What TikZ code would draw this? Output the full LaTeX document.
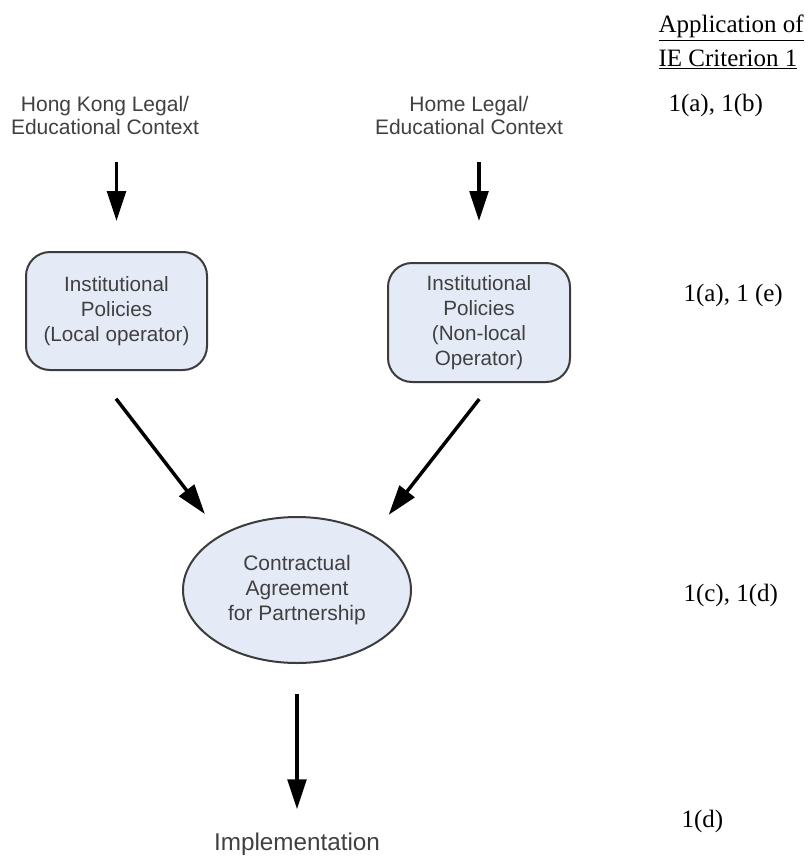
\documentclass[tikz,border=0pt]{standalone}
\usepackage{fontspec}
\setmainfont{Liberation Sans}
\newfontfamily\critfont{Liberation Serif}
\usetikzlibrary{arrows.meta,shapes.geometric}

\definecolor{policyfill}{RGB}{228,234,246}
\definecolor{edgegray}{RGB}{60,60,60}
\definecolor{textgray}{RGB}{64,64,64}

\tikzset{every picture/.style={line width=0.75pt}}
\tikzset{
  context/.style={anchor=south, inner sep=0pt, align=center, text=textgray, font=\fontsize{15.75}{17.25}\selectfont},
  policy/.style={draw=edgegray, line width=1.5pt, fill=policyfill, rounded corners=18pt, inner sep=0pt, align=center, text=textgray, font=\fontsize{15.5}{18.75}\selectfont},
  agreement/.style={ellipse, draw=edgegray, line width=1.5pt, fill=policyfill, inner sep=0pt, minimum width=171pt, minimum height=109.5pt, align=center, text=textgray, font=\fontsize{15.75}{18.75}\selectfont},
  crit/.style={anchor=base west, inner sep=0pt, font=\fontsize{18.75}{24.75}\critfont},
  flow/.style={line width=2.6pt, -{Triangle[length=22.5pt,width=14pt]}},
}

\begin{document}
\begin{tikzpicture}[x=0.75pt,y=0.75pt,yscale=-1,xscale=1]

\useasboundingbox (0,0) rectangle (809,856);

\draw (105,135) node [context] (hkctx) {Hong Kong Legal/\\Educational Context};
\draw (469,135) node [context] (homectx) {Home Legal/\\Educational Context};

\draw (116.5,311) node [policy, minimum width=135.75pt, minimum height=88.5pt] (hkpol) {Institutional\\Policies\\(Local operator)};
\draw (479,322.5) node [policy, minimum width=136.5pt, minimum height=89.25pt] (nlpol) {Institutional\\Policies\\(Non-local\\Operator)};

\draw (297,590) node [agreement] (agree) {Contractual\\Agreement\\for Partnership};
\draw (297,850) node [anchor=base, inner sep=0pt, text=textgray, font=\fontsize{18.2}{20}\selectfont] (impl) {Implementation};

\draw [flow, shorten <=20.25pt, shorten >=22.5pt] (hkctx.south -| hkpol.north) -- (hkpol.north) ;
\draw [flow, shorten <=20.25pt, shorten >=30.75pt] (homectx.south -| nlpol.north) -- (nlpol.north) ;
\draw [flow, shorten <=26.25pt, shorten >=19.5pt] (hkpol.-110) -- (agree.144.5) ;
\draw [flow, shorten <=15.3pt, shorten >=18.75pt] (nlpol.-78) -- (agree.36.6) ;
\draw [flow, shorten <=22.5pt, shorten >=17pt] (agree.south) -- (impl.north) ;

\draw (658,33) node [crit] (apphead) {\underline{Application of}};
\draw (658,66) node [crit] (iehead) {\underline{IE Criterion 1}};
\draw (668,111) node [crit] (critab) {1(a), 1(b)};
\draw (683,301) node [crit] (critae) {1(a), 1 (e)};
\draw (683,601) node [crit] (critcd) {1(c), 1(d)};
\draw (681,827) node [crit] (critd) {1(d)};

\end{tikzpicture}
\end{document}
